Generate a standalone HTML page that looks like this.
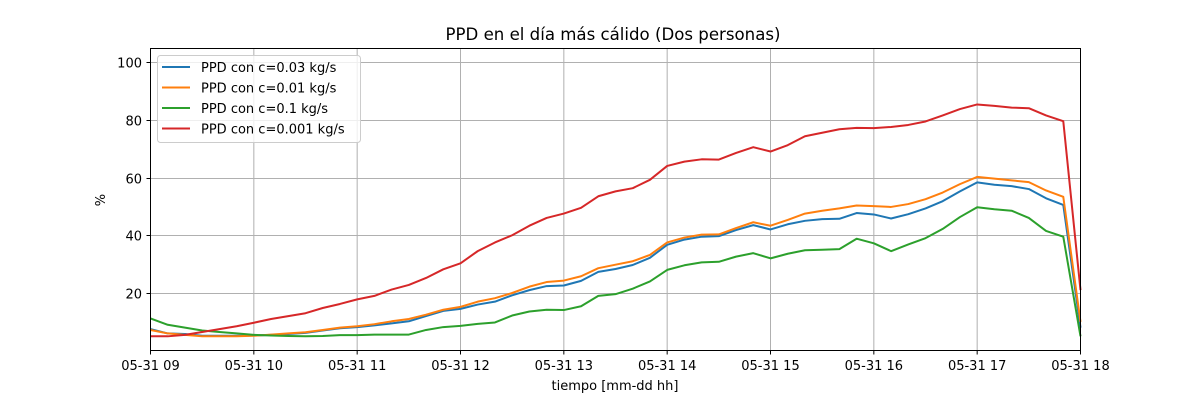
<!DOCTYPE html>
<html><head><meta charset="utf-8">
<style>
html,body{margin:0;padding:0;background:#fff;}
svg text{font-family:"DejaVu Sans","Liberation Sans",sans-serif;fill:#000;}
</style></head>
<body>
<svg id="chart" width="1200" height="400" xmlns="http://www.w3.org/2000/svg">
<rect width="1200" height="400" fill="#fff"/>
<g id="grid"></g>
<g id="series"></g>
<rect x="150.5" y="48.5" width="930" height="302" fill="none" stroke="#000" stroke-width="1"/>
<g id="axes"></g>
<text x="613" y="40" font-size="16.6" text-anchor="middle">PPD en el día más cálido (Dos personas)</text>
<text x="615" y="390" font-size="13" text-anchor="middle">tiempo [mm-dd hh]</text>
<text x="105" y="200" font-size="13" text-anchor="middle" transform="rotate(-90 105 200)">%</text>
<g id="legend">
<rect x="157.5" y="55.5" width="203" height="87" rx="3" fill="#fff" fill-opacity="0.8" stroke="#ccc"/>
</g>
</svg>
<script>
const xTickLabels = ["05-31 09","05-31 10","05-31 11","05-31 12","05-31 13","05-31 14","05-31 15","05-31 16","05-31 17","05-31 18"];
const yTicks = [20,40,60,80,100];
const seriesNames = ["PPD con c=0.03 kg/s","PPD con c=0.01 kg/s","PPD con c=0.1 kg/s","PPD con c=0.001 kg/s"];
const blue = [7.5,6,5.8,5.2,5.2,5.2,5.3,5.5,5.8,6.2,7,7.8,8.2,8.8,9.5,10.2,12,13.8,14.5,16,17,19.2,21,22.4,22.6,24.2,27.3,28.3,29.7,32.2,36.7,38.5,39.5,39.7,41.8,43.5,42,43.8,45,45.6,45.7,47.7,47.2,45.8,47.3,49.3,51.8,55.2,58.3,57.5,57,56,52.8,50.5,8];
const orange = [7.2,6,5.5,5,5,5,5.2,5.6,6,6.4,7.2,8,8.5,9.2,10.2,11,12.5,14.2,15.2,17,18.2,20,22.2,23.8,24.3,25.8,28.6,29.8,31,33.2,37.5,39.2,40.2,40.3,42.5,44.5,43.3,45.3,47.5,48.5,49.3,50.3,50.1,49.8,50.8,52.5,54.8,57.7,60.2,59.6,59,58.4,55.5,53.3,10];
const green = [11.2,9,8,7,6.5,6,5.5,5.3,5.1,5,5.1,5.4,5.4,5.6,5.6,5.6,7.2,8.2,8.6,9.3,9.8,12.2,13.6,14.2,14.1,15.4,19,19.6,21.5,24,28,29.6,30.6,30.8,32.6,33.8,32,33.6,34.8,35,35.2,38.8,37.2,34.5,36.8,39,42.2,46.3,49.7,49,48.5,46,41.5,39.5,5];
const red = [5,5,5.5,6.5,7.5,8.5,9.7,11,12,13,14.8,16.2,17.8,19,21.2,22.8,25.2,28.2,30.3,34.5,37.5,40,43.3,46,47.5,49.5,53.5,55.2,56.3,59.2,64,65.5,66.3,66.2,68.5,70.5,69,71.2,74.3,75.5,76.7,77.2,77.1,77.5,78.2,79.4,81.5,83.7,85.3,84.8,84.2,84,81.5,79.5,21];
const colors = ["#1f77b4","#ff7f0e","#2ca02c","#d62728"];
const NS="http://www.w3.org/2000/svg";
const x0=150.5,x1=1080.5,hours=9;
const xScale=h=>x0+(x1-x0)*h/hours;
const yScale=v=>350.75-v*2.8875;
function mk(tag,attrs,parent){const e=document.createElementNS(NS,tag);for(const k in attrs)e.setAttribute(k,attrs[k]);parent.appendChild(e);return e;}
const grid=document.getElementById('grid'),axes=document.getElementById('axes');
xTickLabels.forEach((lab,i)=>{
  const x=xScale(i);
  const g=mk('line',{x1:x,x2:x,y1:48.5,y2:350.5,stroke:'#b0b0b0','stroke-width':1},grid);
  
  
  const t=mk('line',{x1:x,x2:x,y1:350.5,y2:354.5,stroke:'#000'},axes);
  
  
  const tx=mk('text',{x:x,y:370,'font-size':13,'text-anchor':'middle'},axes);
  tx.textContent=lab;
  
  
});
yTicks.forEach(v=>{
  const y=Math.round(yScale(v))+0.5;
  const g=mk('line',{x1:150.5,x2:1080.5,y1:y,y2:y,stroke:'#b0b0b0','stroke-width':1},grid);
  
  
  const t=mk('line',{x1:146.5,x2:150.5,y1:y,y2:y,stroke:'#000'},axes);
  
  
  const tx=mk('text',{x:142,y:y+5,'font-size':13,'text-anchor':'end'},axes);
  tx.textContent=v;
  
  
});
const ser=document.getElementById('series');
[blue,orange,green,red].forEach((d,si)=>{
  const pts=d.map((v,i)=>xScale(i/6).toFixed(2)+','+yScale(v).toFixed(2)).join(' ');
  const p=mk('polyline',{points:pts,fill:'none',stroke:colors[si],'stroke-width':2,'stroke-linejoin':'round'},ser);
  
  
});
const leg=document.getElementById('legend');
seriesNames.forEach((n,i)=>{
  const y=67+i*20.5;
  const l=mk('line',{x1:162,x2:190,y1:y,y2:y,stroke:colors[i],'stroke-width':2},leg);
  
  
  const t=mk('text',{x:201,y:y+5,'font-size':13},leg);
  t.textContent=n;
  
  
});
</script>
</body></html>
